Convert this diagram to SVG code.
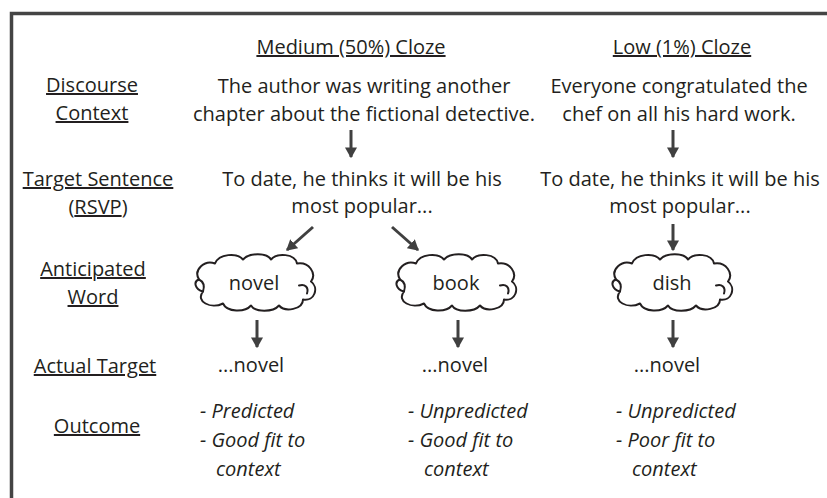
<svg xmlns="http://www.w3.org/2000/svg" width="827" height="498" viewBox="0 0 827 498">
<defs>
<style>
text{font-family:"Open Sans","Liberation Sans",sans-serif;font-size:20px;fill:#231f20;}
.c{text-anchor:middle;}
.u{text-decoration:underline;}
.i{font-style:italic;}
.frame{fill:none;stroke:#444;stroke-width:3.5;}
.arrow{stroke:#404040;stroke-width:3;fill:none;marker-end:url(#ah);}
.cloud{fill:#fff;stroke:#231f20;stroke-width:2;stroke-linejoin:round;}
.curl{fill:none;stroke:#231f20;stroke-width:2;stroke-linecap:round;}
</style>
<marker id="ah" viewBox="0 0 9 10" markerWidth="3.6" markerHeight="4" refX="8" refY="5" orient="auto" markerUnits="strokeWidth">
<path d="M0,0 L9,5 L0,10 z" fill="#404040"/>
</marker>
<g id="cloudShape">
<path class="cloud" d="M-56,-4 C-62,-14 -50,-24 -40,-20 C-36,-30 -18,-31 -12,-24 C-6,-31 12,-31 16,-24 C22,-31 40,-30 42,-20 C54,-22 62,-10 56,-2 C64,4 60,18 48,16 C48,26 30,29 24,22 C18,29 0,29 -4,22 C-10,29 -28,29 -32,20 C-44,26 -60,18 -52,8 C-60,6 -62,-2 -56,-4 Z"/>
<path class="curl" d="M44,2 C50,0 54,4 52,10"/>
<path class="curl" d="M-56,-4 C-52,-2 -50,2 -52,8"/>
</g>
</defs>
<rect width="827" height="498" fill="#fff"/>
<path class="frame" d="M11.5,500 V13.5 H830"/>

<g id="headers">
<text class="c u" x="351" y="54">Medium (50%) Cloze</text>
<text class="c u" x="682" y="54">Low (1%) Cloze</text>
</g>

<g id="row-labels">
<text class="c u" x="92" y="92">Discourse</text>
<text class="c u" x="92" y="120">Context</text>
<text class="c u" x="98" y="186">Target Sentence</text>
<text class="c" x="98" y="214">(<tspan class="u">RSVP</tspan>)</text>
<text class="c u" x="93" y="276">Anticipated</text>
<text class="c u" x="93" y="304">Word</text>
<text class="c u" x="95" y="373">Actual Target</text>
<text class="c u" x="97" y="433">Outcome</text>
</g>

<g id="context-medium">
<text class="c" x="364" y="93">The author was writing another</text>
<text class="c" x="364" y="121">chapter about the fictional detective.</text>
</g>
<g id="context-low">
<text class="c" x="679" y="93">Everyone congratulated the</text>
<text class="c" x="679" y="121">chef on all his hard work.</text>
</g>
<g id="sentence-medium">
<text class="c" x="362" y="186">To date, he thinks it will be his</text>
<text class="c" x="362" y="213">most popular...</text>
</g>
<g id="sentence-low">
<text class="c" x="680" y="186">To date, he thinks it will be his</text>
<text class="c" x="680" y="213">most popular...</text>
</g>

<g id="cloud-novel">
<use href="#cloudShape" transform="translate(255,283.5)"/>
<text class="c" x="254" y="290">novel</text>
</g>
<g id="cloud-book">
<use href="#cloudShape" transform="translate(456,283.5)"/>
<text class="c" x="456" y="290">book</text>
</g>
<g id="cloud-dish">
<use href="#cloudShape" transform="translate(672,283.5)"/>
<text class="c" x="672" y="290">dish</text>
</g>

<g id="target-1"><text class="c" x="251" y="372">...novel</text></g>
<g id="target-2"><text class="c" x="455" y="372">...novel</text></g>
<g id="target-3"><text class="c" x="667" y="372">...novel</text></g>

<g id="outcome-1">
<text class="i" x="200" y="418">- Predicted</text>
<text class="i" x="200" y="447">- Good fit to</text>
<text class="i" x="216" y="476">context</text>
</g>
<g id="outcome-2">
<text class="i" x="408" y="418">- Unpredicted</text>
<text class="i" x="408" y="447">- Good fit to</text>
<text class="i" x="424" y="476">context</text>
</g>
<g id="outcome-3">
<text class="i" x="616" y="418">- Unpredicted</text>
<text class="i" x="616" y="447">- Poor fit to</text>
<text class="i" x="632" y="476">context</text>
</g>

<g id="connectors">
<line class="arrow" x1="351" y1="130" x2="351" y2="157"/>
<line class="arrow" x1="673" y1="130" x2="673" y2="157"/>
<line class="arrow" x1="313" y1="227" x2="287" y2="250"/>
<line class="arrow" x1="392" y1="227" x2="418" y2="250"/>
<line class="arrow" x1="673" y1="224" x2="673" y2="250"/>
<line class="arrow" x1="257" y1="320" x2="257" y2="347"/>
<line class="arrow" x1="458" y1="320" x2="458" y2="347"/>
<line class="arrow" x1="673" y1="320" x2="673" y2="347"/>
</g>
</svg>
